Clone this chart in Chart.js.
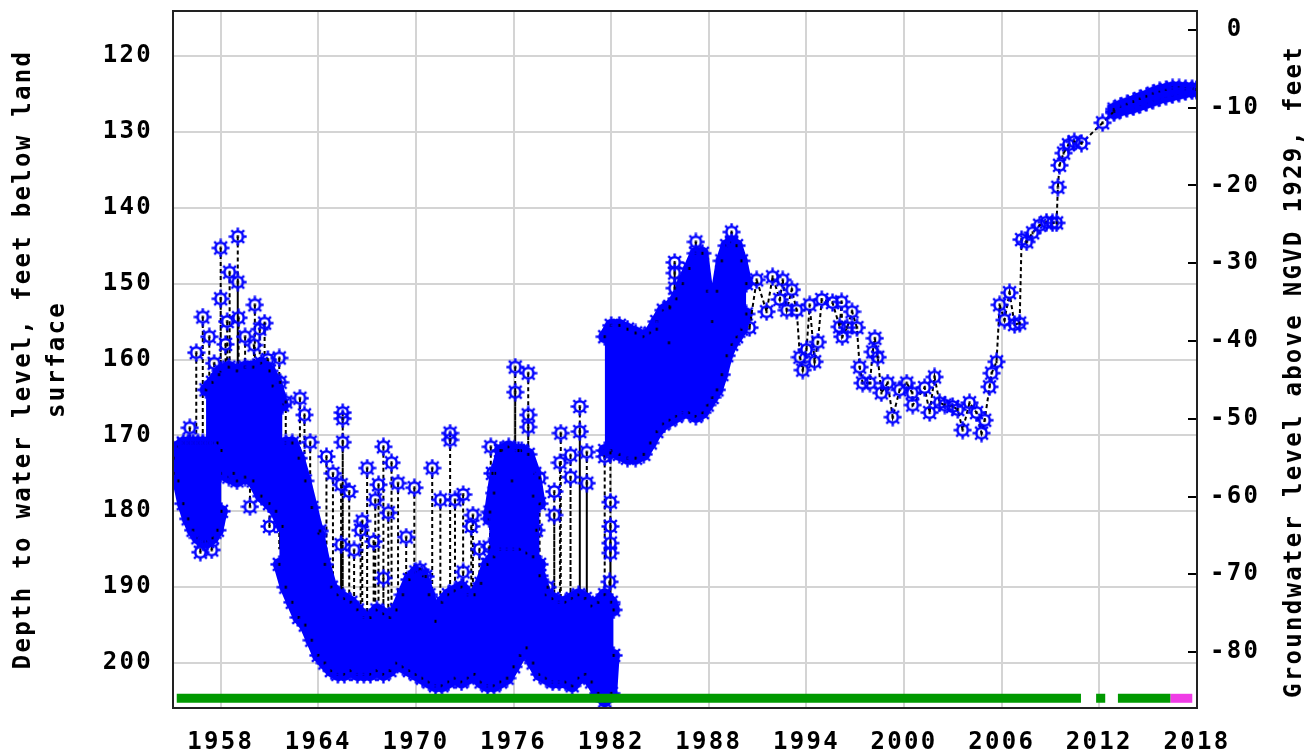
<!DOCTYPE html>
<html>
<head>
<meta charset="utf-8">
<script src="https://cdn.jsdelivr.net/npm/chart.js@4.4.0/dist/chart.umd.min.js"></script>
<style>
  html, body { margin: 0; padding: 0; background: #fff; }
  canvas { display: block; }
</style>
</head>
<body>
<canvas id="myChart" width="1307" height="754"></canvas>
<script>
// axis ticks
const yearTicks = [1958, 1964, 1970, 1976, 1982, 1988, 1994, 2000, 2006, 2012, 2018];
const depthTicks = [120, 130, 140, 150, 160, 170, 180, 190, 200];
const elevTicks = [0, -10, -20, -30, -40, -50, -60, -70, -80];

// dense continuous records: upper and lower edge of the swath (depth, ft)
const blob1Year = [1955.1, 1955.4, 1955.7, 1956.0, 1956.3, 1956.6, 1956.9, 1957.2, 1957.5, 1957.8, 1958.05];
const blob1Top = [173, 171.5, 171, 171, 171, 171, 171, 171, 171, 171, 172];
const blob1Bottom = [175, 176, 179, 181, 182.5, 183.5, 184, 184, 183.5, 182.5, 180];

const blob2Year = [1957.1, 1957.5, 1958.0, 1958.5, 1959.0, 1959.5, 1960.0, 1960.5, 1961.0, 1961.4, 1961.8];
const blob2Top = [164, 163, 161.5, 161, 161.5, 161, 161, 160.5, 161.5, 163, 166];
const blob2Bottom = [175, 175, 175, 175.5, 176, 175.5, 176, 178, 179, 180, 182];

const blob3Year = [1961.6, 1962.0, 1962.4, 1962.8, 1963.2, 1963.6, 1964.0, 1964.4, 1964.8, 1965.2,
  1965.6, 1966.0, 1966.4, 1966.8, 1967.2, 1967.6, 1968.0, 1968.4, 1968.8, 1969.2,
  1969.6, 1970.0, 1970.4, 1970.8, 1971.2, 1971.6, 1972.0, 1972.4, 1972.8, 1973.2,
  1973.6, 1974.0, 1974.4, 1974.8, 1975.2, 1975.6, 1976.0, 1976.4, 1976.8, 1977.2,
  1977.6, 1978.0, 1978.4, 1978.8, 1979.2, 1979.6, 1980.0, 1980.4, 1980.8, 1981.2,
  1981.6, 1982.0, 1982.15];
const blob3Top = [179, 171, 171, 173, 176, 179.5, 183, 187, 190, 191,
  191.5, 192, 193, 194, 194, 193, 193.5, 194, 193, 191,
  189, 188, 188.5, 191, 194.5, 192, 191, 190.5, 190, 191,
  191, 189.5, 187, 186, 185, 185, 185, 185, 185.5, 186,
  188.5, 191, 191.5, 192, 192, 191.5, 191, 191.5, 192.5, 192,
  191, 192, 193];
const blob3Bottom = [187, 190, 192, 194, 195, 197, 199, 200, 201, 201.5,
  201.5, 201, 201.5, 201.5, 201.5, 201, 201.5, 201, 200, 200.5,
  201, 201.5, 202, 202.5, 203, 203, 202.5, 202, 202.5, 202,
  201.5, 202.5, 203, 203, 202.5, 202, 200.5, 199, 198, 200,
  201.5, 202, 202.5, 202.5, 202.5, 203, 202, 201.5, 202.5, 204,
  205, 204, 199];

const blob3bYear = [1974.5, 1974.9, 1975.3, 1975.7, 1976.1, 1976.5, 1976.9, 1977.3, 1977.6];
const blob3bTop = [181, 175, 172, 171.5, 172, 172, 172.5, 175, 179];
const blob3bBottom = [187, 187, 187, 187, 187, 187, 187, 187, 187];

const blob4Year = [1981.6, 1982.0, 1982.5, 1983.0, 1983.5, 1984.0, 1984.4, 1984.8, 1985.2, 1985.6, 1986.0, 1986.4,
  1986.8, 1987.2, 1987.6, 1987.9, 1988.2, 1988.5, 1988.8, 1989.1, 1989.4, 1989.7, 1990.0, 1990.3];
const blob4Top = [157, 155.5, 155.5, 156, 156.5, 157, 156.5, 155, 153.5, 153, 152, 150,
  148, 146, 146, 151, 155, 151, 147, 145, 144.5, 145, 147, 150];
const blob4Bottom = [172, 172, 172.5, 173, 173, 172.5, 171, 169.5, 168.5, 168, 167.5, 167,
  167, 167.5, 167, 166, 165, 164, 162, 159.5, 158, 157, 156, 154];

const blob5Year = [2012.9, 2013.3, 2013.7, 2014.1, 2014.5, 2014.9, 2015.3, 2015.7, 2016.1, 2016.5, 2016.9, 2017.3, 2017.7, 2017.97];
const blob5Top = [127.0, 126.6, 126.3, 126.0, 125.6, 125.3, 124.9, 124.6, 124.4, 124.2, 124.2, 124.3, 124.3, 124.4];
const blob5Bottom = [127.5, 127.1, 126.9, 126.7, 126.4, 126.1, 125.8, 125.5, 125.3, 125.1, 124.9, 124.7, 124.6, 124.5];

// single measurements standing out of the swath: [year, depth]
const earlyOut = [[1956.1, 169.0], [1956.5, 159.1], [1956.9, 154.4], [1957.3, 157.0], [1956.75, 185.4], [1957.45, 185.1],
  [1957.6, 160.5], [1957.9, 162.0], [1958.0, 145.3], [1958.0, 152.0], [1958.3, 158.0], [1958.4, 155.0],
  [1958.55, 148.5], [1959.05, 143.8], [1959.05, 149.8], [1959.1, 154.5], [1959.5, 157.0], [1958.8, 175.0],
  [1959.8, 179.4], [1960.05, 158.1], [1960.1, 152.8], [1960.4, 156.0], [1960.7, 155.2], [1960.9, 160.0],
  [1961.0, 182.0], [1961.2, 163.5]];
const midOut = [[1961.6, 159.8], [1961.65, 163.0], [1962.0, 165.6], [1962.87, 165.1], [1963.15, 167.3],
  [1963.5, 170.9], [1964.1, 182.6]];
const lateOut = [[1964.5, 172.8], [1964.9, 175.0], [1965.4, 176.5], [1965.4, 184.4], [1965.5, 167.0], [1965.5, 167.8], [1965.5, 170.9],
  [1965.9, 177.4], [1966.2, 185.1], [1966.6, 182.5], [1966.7, 181.3], [1967.0, 174.3], [1967.4, 184.0], [1967.5, 178.5],
  [1967.7, 176.5], [1968.0, 171.5], [1968.0, 188.8], [1968.3, 180.2], [1968.5, 173.6], [1968.9, 176.3], [1969.4, 183.4],
  [1969.9, 176.9], [1970.25, 187.7], [1970.6, 188.6], [1971.0, 174.3], [1971.5, 178.5], [1972.1, 169.7], [1972.1, 170.6],
  [1972.4, 178.5], [1972.9, 177.8], [1972.9, 188.0], [1973.4, 182.0], [1973.5, 180.5], [1973.9, 185.0], [1974.5, 184.7],
  [1974.55, 180.1], [1974.6, 171.5], [1974.7, 175.0], [1974.8, 177.6], [1975.2, 172.0], [1975.9, 176.0], [1976.1, 161.0],
  [1976.1, 164.3], [1976.3, 172.0], [1976.9, 161.8], [1976.9, 167.3], [1976.9, 168.9], [1977.2, 178.0], [1977.4, 182.5],
  [1977.6, 175.6], [1978.1, 190.0], [1978.5, 177.4], [1978.5, 180.5], [1978.85, 173.6], [1978.9, 169.7], [1979.5, 172.6],
  [1979.5, 175.5], [1980.07, 166.2], [1980.07, 169.5], [1980.5, 172.2], [1980.5, 176.3], [1981.6, 172.8], [1981.95, 172.3],
  [1981.95, 178.8], [1981.95, 182.0], [1981.95, 184.2], [1981.95, 185.5], [1981.9, 189.3]];
const blob4Out = [[1984.8, 156.0], [1985.55, 157.8], [1985.6, 153.2], [1985.9, 147.2], [1985.9, 148.6], [1985.9, 150.6],
  [1987.2, 144.5], [1989.4, 143.2]];

// sparse record 1990-2012
const sparseYear = [1990.5, 1990.94, 1991.55, 1991.92, 1992.36, 1992.54, 1992.79, 1993.1, 1993.4, 1993.6, 1993.77,
  1994.0, 1994.2, 1994.5, 1994.7, 1994.94, 1995.6, 1996.04, 1996.16, 1996.2, 1996.5, 1996.8, 1997.1, 1997.27,
  1997.45, 1997.9, 1998.07, 1998.2, 1998.38, 1998.6, 1998.99, 1999.3, 1999.73, 2000.16, 2000.5, 2000.53, 2001.26,
  2001.57, 2001.87, 2002.18, 2002.5, 2002.98, 2003.3, 2003.6, 2004.02, 2004.45, 2004.76, 2004.95, 2005.25, 2005.38,
  2005.68, 2005.87, 2006.17, 2006.48, 2006.79, 2007.1, 2007.22, 2007.53, 2007.9, 2008.33, 2008.75, 2009.12, 2009.37,
  2009.45, 2009.55, 2009.8, 2010.1, 2010.46, 2010.9, 2012.2, 2012.9];
const sparseDepth = [155.8, 149.5, 153.7, 149.1, 152.1, 149.5, 153.5, 150.8, 153.5, 159.7, 161.4,
  158.7, 152.8, 160.3, 157.7, 152.1, 152.5, 155.7, 152.4, 157.0, 155.8, 153.7, 155.8, 161.0,
  163.1, 163.1, 159.0, 157.2, 159.7, 164.4, 163.1, 167.6, 164.0, 163.1, 164.4, 166.0, 163.7,
  167.0, 162.3, 165.7, 166.0, 166.2, 166.6, 169.3, 165.7, 167.0, 169.7, 168.0, 163.6, 161.8,
  160.3, 152.8, 154.8, 151.2, 155.4, 155.2, 144.2, 144.5, 143.3, 142.3, 141.9, 142.0, 142.0,
  137.3, 134.4, 132.8, 131.7, 131.3, 131.5, 128.8, 127.3];

// data-approval strip along the bottom
const approvedSpans = [[1955.3, 2010.87], [2011.8, 2012.36], [2013.14, 2016.36]];
const provisionalSpans = [[2016.36, 2017.71]];
const stripDepth = 204.65;

const blue = "#0000ff";
const font = "DejaVu Sans Mono";

function gearMarker() {
  const c = document.createElement("canvas");
  c.width = 19;
  c.height = 19;
  const g = c.getContext("2d");
  g.strokeStyle = blue;
  g.lineWidth = 2.6;
  g.beginPath();
  g.arc(9.5, 9.5, 5.2, 0, Math.PI * 2);
  g.stroke();
  g.fillStyle = blue;
  for (let k = 0; k < 8; k++) {
    g.save();
    g.translate(9.5, 9.5);
    g.rotate((k * Math.PI) / 4);
    g.fillRect(-1.2, -9, 2.4, 3);
    g.restore();
  }
  g.fillStyle = "#000";
  g.fillRect(8.5, 8, 2, 3);
  return c;
}
const gear = gearMarker();

const pts = (xs, ys) => xs.map((x, i) => ({ x: x, y: ys[i] }));

function envelope(years, top, bottom) {
  const common = {
    borderColor: blue,
    borderWidth: 12,
    borderJoinStyle: "round",
    borderCapStyle: "round",
    pointStyle: gear,
    pointRadius: 8,
    order: 4,
  };
  return [
    { ...common, data: pts(years, top), fill: false },
    { ...common, data: pts(years, bottom), backgroundColor: blue, fill: "-1" },
  ];
}

const drops = (list, to) => list.flatMap(([x, y]) => [{ x: x, y: y }, { x: x, y: to }, { x: x, y: null }]);
const spans = (list) => list.flatMap(([a, b]) => [{ x: a, y: stripDepth }, { x: b, y: stripDepth }, { x: b, y: null }]);

const rightTitle = "Groundwater level above NGVD 1929, feet";

const frame = {
  id: "frame",
  beforeUpdate(chart) {
    chart.ctx.letterSpacing = "2.3px";
  },
  beforeDraw(chart) {
    chart.ctx.letterSpacing = "2.3px";
  },
  afterDraw(chart) {
    const { ctx, chartArea: a } = chart;
    ctx.save();
    ctx.strokeStyle = "#222";
    ctx.lineWidth = 2;
    ctx.strokeRect(a.left, a.top, a.right - a.left, a.bottom - a.top);
    ctx.fillStyle = "#000";
    ctx.font = `bold 24px "${font}"`;
    ctx.textAlign = "center";
    ctx.textBaseline = "middle";
    ctx.translate(chart.width - 12, (a.top + a.bottom) / 2 + 12);
    ctx.rotate(-Math.PI / 2);
    ctx.fillText(rightTitle, 0, 0);
    ctx.restore();
  },
};

const tickFont = { family: font, size: 24, weight: "bold" };
const setTicks = (list) => (scale) => {
  scale.ticks = list.map((v) => ({ value: v }));
};

const chart = new Chart(document.getElementById("myChart"), {
  type: "line",
  plugins: [frame],
  options: {
    responsive: false,
    animation: false,
    events: [],
    layout: { autoPadding: false, padding: { top: 11, left: 0, right: 0, bottom: 0 } },
    plugins: {
      legend: { display: false },
      tooltip: { enabled: false },
    },
    scales: {
      x: {
        type: "linear",
        min: 1955.07,
        max: 2018,
        afterBuildTicks: setTicks(yearTicks),
        afterFit: (s) => {
          s.height = 46;
          s.paddingLeft = 0;
          s.paddingRight = 0;
        },
        ticks: {
          autoSkip: false,
          maxRotation: 0,
          color: "#000",
          font: tickFont,
          padding: 20,
          callback: (v) => String(v),
        },
        grid: { color: "#d4d4d4", lineWidth: 2, drawTicks: false },
        border: { display: false },
      },
      y: {
        position: "left",
        reverse: true,
        min: 114.07,
        max: 205.93,
        afterBuildTicks: setTicks(depthTicks),
        afterFit: (s) => {
          s.width = 173;
          s.paddingTop = 0;
          s.paddingBottom = 0;
        },
        ticks: { color: "#000", font: tickFont, padding: 20 },
        grid: { color: "#d4d4d4", lineWidth: 2, drawTicks: false },
        border: { display: false },
        title: {
          display: true,
          text: ["Depth to water level, feet below land", "surface"],
          color: "#000",
          font: { family: font, size: 24, weight: "bold", lineHeight: 34 / 24 },
          padding: { top: 7, bottom: 0 },
        },
      },
      y2: {
        position: "right",
        min: -87.2,
        max: 2.44,
        afterBuildTicks: setTicks(elevTicks),
        afterFit: (s) => {
          s.width = 110;
          s.paddingTop = 0;
          s.paddingBottom = 0;
        },
        ticks: { color: "#000", font: tickFont, padding: 22, crossAlign: "center" },
        grid: { drawOnChartArea: false, drawTicks: true, tickLength: -9, color: "#000", lineWidth: 2 },
        border: { display: false },
      },
    },
  },
  data: {
    datasets: [
      {
        label: "Approved",
        data: spans(approvedSpans),
        borderColor: "#009900",
        borderWidth: 9,
        borderCapStyle: "butt",
        pointRadius: 0,
        order: 0,
      },
      {
        label: "Provisional",
        data: spans(provisionalSpans),
        borderColor: "#f03ce6",
        borderWidth: 9,
        borderCapStyle: "butt",
        pointRadius: 0,
        order: 0,
      },
      {
        label: "Single measurements",
        data: [...earlyOut, ...midOut, ...lateOut, ...blob4Out].map(([x, y]) => ({ x: x, y: y })),
        showLine: false,
        pointStyle: gear,
        pointRadius: 8,
        order: 1,
      },
      {
        label: "Sparse record",
        data: pts(sparseYear, sparseDepth),
        borderColor: "#000",
        borderWidth: 2,
        borderDash: [4, 3],
        pointStyle: gear,
        pointRadius: 8,
        order: 2,
      },
      ...envelope(blob1Year, blob1Top, blob1Bottom),
      ...envelope(blob2Year, blob2Top, blob2Bottom),
      ...envelope(blob3Year, blob3Top, blob3Bottom),
      ...envelope(blob3bYear, blob3bTop, blob3bBottom),
      ...envelope(blob4Year, blob4Top, blob4Bottom),
      ...envelope(blob5Year, blob5Top, blob5Bottom),
      {
        label: "Connectors",
        data: [...drops(earlyOut, 172), ...drops(midOut, 185), ...drops(lateOut, 195), ...drops(blob4Out, 155)],
        borderColor: "#000",
        borderWidth: 2,
        borderDash: [4, 3],
        pointRadius: 0,
        order: 6,
      },
    ],
  },
});
</script>
</body>
</html>
